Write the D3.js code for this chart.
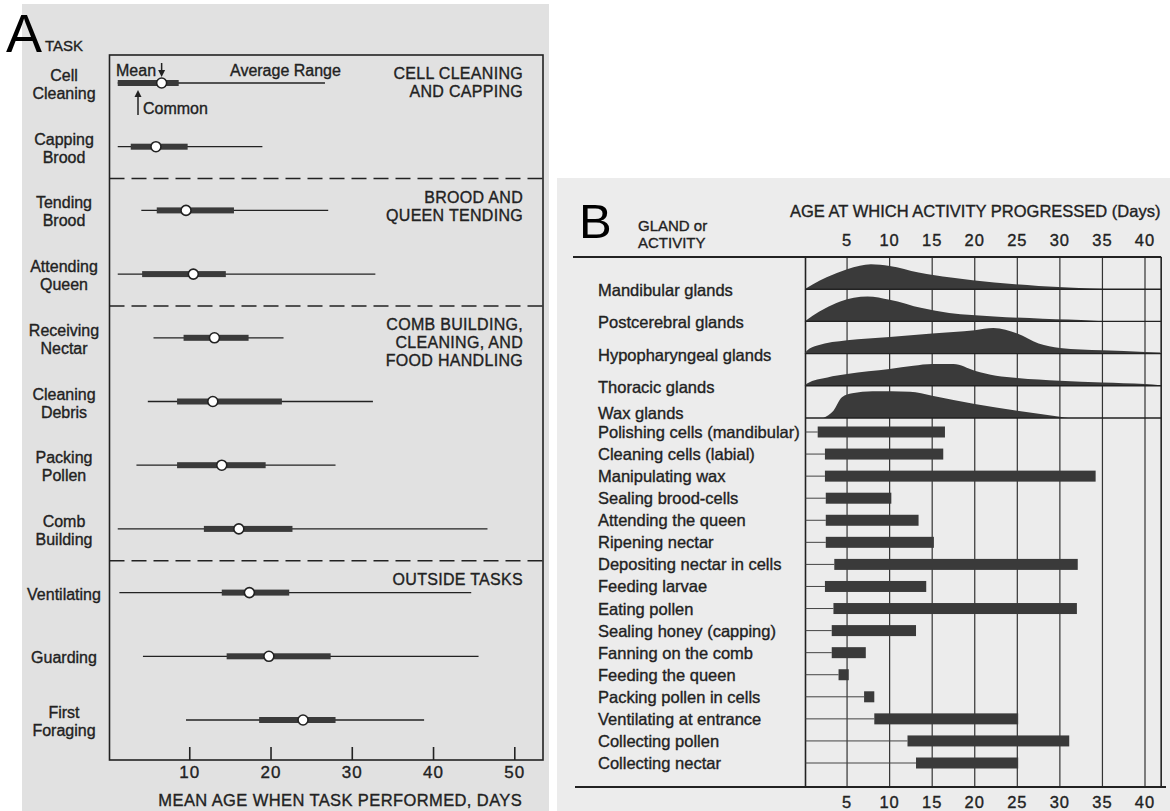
<!DOCTYPE html>
<html><head><meta charset="utf-8">
<script src="https://cdn.jsdelivr.net/npm/d3@7"></script>
<style>
html,body{margin:0;padding:0;background:#fff;}
svg{display:block;font-family:"Liberation Sans",Arial,Helvetica,sans-serif;}
svg text{stroke:#222;stroke-width:0.35px;}
svg text.big{stroke:none;}
</style></head><body>
<svg id="fig" width="1170" height="811"></svg>
<script>
// ---------- Panel A: mean age at which each task is performed ----------
const taskLabels = [["Cell","Cleaning"],["Capping","Brood"],["Tending","Brood"],["Attending","Queen"],["Receiving","Nectar"],["Cleaning","Debris"],["Packing","Pollen"],["Comb","Building"],["Ventilating"],["Guarding"],["First","Foraging"]];
const rangeStart  = [1.2, 1.2, 4.1, 1.2, 5.6, 4.9, 3.5, 1.2, 1.4, 4.3, 9.6];
const rangeEnd    = [26.7, 19.0, 27.1, 32.9, 21.6, 32.6, 28.0, 46.7, 44.7, 45.6, 38.9];
const commonStart = [1.2, 2.8, 6.0, 4.2, 9.3, 8.5, 8.5, 11.8, 14.0, 14.6, 18.6];
const commonEnd   = [8.7, 9.8, 15.5, 14.5, 17.3, 21.4, 19.4, 22.7, 22.3, 27.4, 28.0];
const meanAge     = [6.6, 5.9, 9.6, 10.5, 13.1, 12.9, 14.0, 16.1, 17.4, 19.8, 24.0];
const taskGroups = [["CELL CLEANING","AND CAPPING"],["BROOD AND","QUEEN TENDING"],["COMB BUILDING,","CLEANING, AND","FOOD HANDLING"],["OUTSIDE TASKS"]];
const groupFirstTask = [0, 2, 4, 8];
const ageTicksA = [10, 20, 30, 40, 50];

// ---------- Panel B: glandular development and activities by age ----------
const glands = ["Mandibular glands","Postcerebral glands","Hypopharyngeal glands","Thoracic glands","Wax glands"];
const mandibularProfile     = [[0,0],[1,5],[2.6,12],[5,20],[6.5,23.5],[7.8,25],[10,23.3],[13.4,16.7],[17.2,11.7],[22.3,6.7],[27.5,3.3],[31,1.7],[36,0]];
const postcerebralProfile   = [[0,0],[1,6],[2.4,13],[4.2,20],[7.4,25],[10,21.7],[13.8,13.3],[17,8.3],[22.3,5],[28,2.7],[34,0.7],[35,0]];
const hypopharyngealProfile = [[0,0],[0.3,3],[1.5,8],[5,13.3],[10,16.7],[15,20],[20,23.3],[22.2,25.5],[25,20],[27.5,10],[30,5.7],[35,3.3],[40,1.7],[41.8,1]];
const thoracicProfile       = [[0,0],[0.3,2.3],[2.7,8.3],[5,11.7],[10,16.7],[12.8,20],[15,21.7],[17.5,21.7],[20,15],[22.5,10],[25,7.7],[30,5],[35,3.3],[40,1.7],[41.8,0.5]];
const waxProfile            = [[2.2,0],[3.4,7.3],[4.4,20.7],[5.6,24.7],[8,26.7],[12.4,26.3],[15,22.3],[20,14],[25,7.3],[30,1.3],[31,0]];
const glandProfiles = [mandibularProfile, postcerebralProfile, hypopharyngealProfile, thoracicProfile, waxProfile];

const activities = ["Polishing cells (mandibular)","Cleaning cells (labial)","Manipulating wax","Sealing brood-cells","Attending the queen","Ripening nectar","Depositing nectar in cells","Feeding larvae","Eating pollen","Sealing honey (capping)","Fanning on the comb","Feeding the queen","Packing pollen in cells","Ventilating at entrance","Collecting pollen","Collecting nectar"];
const activityStart = [1.55, 2.4, 2.4, 2.5, 2.5, 2.5, 3.5, 2.4, 3.4, 3.2, 3.2, 4.0, 7.0, 8.2, 12.1, 13.1];
const activityEnd   = [16.5, 16.3, 34.2, 10.2, 13.4, 15.2, 32.1, 14.3, 32.0, 13.1, 7.2, 5.2, 8.2, 25.1, 31.1, 25.1];
const ageTicksB = [5, 10, 15, 20, 25, 30, 35, 40];

const ink = "#222", fillDark = "#3a3a3a";
const svg = d3.select("#fig");

// ================= PANEL A =================
const gA = svg.append("g");
gA.append("rect").attr("x", 22).attr("y", 4).attr("width", 527).attr("height", 807).attr("fill", "#e1e1e1");

const xA = d3.scaleLinear().domain([0, 50]).range([108, 514.3]);
const frameA = {left: 109.5, right: 543, top: 55, bottom: 760};
const yA = d3.scalePoint().domain(d3.range(taskLabels.length)).range([83, 720]);

// frame
gA.append("rect").attr("x", frameA.left).attr("y", frameA.top)
  .attr("width", frameA.right - frameA.left).attr("height", frameA.bottom - frameA.top)
  .attr("fill", "none").attr("stroke", ink).attr("stroke-width", 1.6);

// bottom axis: inward ticks and labels
const axisA = d3.axisBottom(xA).tickValues(ageTicksA).tickSize(-13).tickPadding(6).tickFormat(d3.format("d"));
gA.append("g").attr("transform", `translate(0,${frameA.bottom})`).call(axisA)
  .call(g => g.select(".domain").remove())
  .call(g => g.selectAll("line").attr("stroke", ink).attr("stroke-width", 1.6))
  .call(g => g.selectAll("text").attr("fill", ink).attr("font-size", 17).attr("font-family", "Liberation Sans, Arial, sans-serif").attr("letter-spacing", 1));

gA.append("text").attr("x", (frameA.left + frameA.right) / 2 + 14).attr("y", 806)
  .attr("text-anchor", "middle").attr("font-size", 16.5).attr("fill", ink).attr("letter-spacing", 0.4)
  .text("MEAN AGE WHEN TASK PERFORMED, DAYS");

// section dividers (dashed), halfway between neighbouring tasks
groupFirstTask.slice(1).forEach(i => {
  const yy = (yA(i - 1) + yA(i)) / 2;
  gA.append("line").attr("x1", frameA.left).attr("x2", frameA.right).attr("y1", yy).attr("y2", yy)
    .attr("stroke", ink).attr("stroke-width", 1.4).attr("stroke-dasharray", "15,7");
});

// section titles, right aligned
taskGroups.forEach((lines, gi) => {
  const i = groupFirstTask[gi];
  const top = gi === 0 ? frameA.top : (yA(i - 1) + yA(i)) / 2;
  lines.forEach((t, li) => {
    gA.append("text").attr("x", 523).attr("y", top + 24 + li * 18)
      .attr("text-anchor", "end").attr("font-size", 16).attr("fill", ink).attr("letter-spacing", 0.3).text(t);
  });
});

// task labels
gA.append("text").attr("x", 45).attr("y", 51).attr("font-size", 15).attr("fill", ink).text("TASK");
taskLabels.forEach((lines, i) => {
  const n = lines.length;
  lines.forEach((t, li) => {
    gA.append("text").attr("x", 64).attr("y", yA(i) + (li - (n - 1) / 2) * 18 + 7)
      .attr("text-anchor", "middle").attr("font-size", 16).attr("fill", ink).text(t);
  });
});

// range lines, common range bars, mean markers
const rowsA = gA.append("g").selectAll("g").data(d3.range(taskLabels.length)).join("g");
rowsA.append("line").attr("x1", i => xA(rangeStart[i])).attr("x2", i => xA(rangeEnd[i]))
  .attr("y1", i => yA(i)).attr("y2", i => yA(i)).attr("stroke", ink).attr("stroke-width", 1.3);
rowsA.append("rect").attr("x", i => xA(commonStart[i])).attr("width", i => xA(commonEnd[i]) - xA(commonStart[i]))
  .attr("y", i => yA(i) - 3).attr("height", 6).attr("fill", fillDark);
rowsA.append("circle").attr("cx", i => xA(meanAge[i])).attr("cy", i => yA(i)).attr("r", 5)
  .attr("fill", "#fff").attr("stroke", ink).attr("stroke-width", 1.6);

// key annotations on the first row
gA.append("text").attr("x", 116).attr("y", 76).attr("font-size", 16).attr("fill", ink).text("Mean");
gA.append("line").attr("x1", xA(meanAge[0])).attr("x2", xA(meanAge[0])).attr("y1", 63).attr("y2", 74)
  .attr("stroke", ink).attr("stroke-width", 1.5);
gA.append("path").attr("d", `M${xA(meanAge[0]) - 3.5},70 L${xA(meanAge[0]) + 3.5},70 L${xA(meanAge[0])},77 Z`).attr("fill", ink);
gA.append("text").attr("x", 230).attr("y", 76).attr("font-size", 16).attr("fill", ink).text("Average Range");
gA.append("line").attr("x1", 138).attr("x2", 138).attr("y1", 94).attr("y2", 115).attr("stroke", ink).attr("stroke-width", 1.5);
gA.append("path").attr("d", "M134.5,97 L141.5,97 L138,90 Z").attr("fill", ink);
gA.append("text").attr("x", 143).attr("y", 114).attr("font-size", 16).attr("fill", ink).text("Common");

gA.append("text").attr("class", "big").attr("x", 6).attr("y", 52).attr("font-size", 54).attr("fill", "#000").text("A");

// ================= PANEL B =================
const gB = svg.append("g");
gB.append("rect").attr("x", 557).attr("y", 178).attr("width", 613).attr("height", 633).attr("fill", "#ececec");

const xB = d3.scaleLinear().domain([0, 40]).range([804.5, 1145]);
const frameB = {left: xB(0) + 1, right: xB(41.9), top: 257, bottom: 787};
const glandBase = d3.scaleLinear().domain([0, glands.length]).range([frameB.top, 418]);
const hB = d3.scaleLinear().domain([0, 30]).range([0, 30]);
const yAct = d3.scalePoint().domain(d3.range(activities.length)).range([432, 763]);

// grid lines
gB.append("g").selectAll("line").data(ageTicksB).join("line")
  .attr("x1", d => xB(d)).attr("x2", d => xB(d)).attr("y1", frameB.top).attr("y2", frameB.bottom)
  .attr("stroke", "#333").attr("stroke-width", 1.2);
// frame pieces
gB.append("line").attr("x1", 573).attr("x2", frameB.right).attr("y1", frameB.top).attr("y2", frameB.top)
  .attr("stroke", ink).attr("stroke-width", 1.8);
gB.append("line").attr("x1", 575).attr("x2", 1166).attr("y1", frameB.bottom).attr("y2", frameB.bottom)
  .attr("stroke", ink).attr("stroke-width", 1.8);
gB.append("line").attr("x1", frameB.left).attr("x2", frameB.left).attr("y1", frameB.top).attr("y2", frameB.bottom)
  .attr("stroke", ink).attr("stroke-width", 1.6);
gB.append("line").attr("x1", frameB.right).attr("x2", frameB.right).attr("y1", frameB.top).attr("y2", frameB.bottom)
  .attr("stroke", ink).attr("stroke-width", 1.6);

// gland development silhouettes
const area = d3.area().curve(d3.curveMonotoneX);
glandProfiles.forEach((prof, gi) => {
  const base = glandBase(gi + 1);
  gB.append("path")
    .attr("d", area.x(d => xB(d[0])).y0(base).y1(d => base - hB(d[1]))(prof))
    .attr("fill", fillDark);
  gB.append("line").attr("x1", frameB.left).attr("x2", frameB.right).attr("y1", base).attr("y2", base)
    .attr("stroke", ink).attr("stroke-width", 1.4);
  gB.append("text").attr("x", 598).attr("y", base + 7 - (gi === 4 ? 6 : 0))
    .attr("font-size", 16.5).attr("fill", ink).text(glands[gi]);
});

// activities: leader line plus age bar
const rowsB = gB.append("g").selectAll("g").data(d3.range(activities.length)).join("g");
rowsB.append("line").attr("x1", frameB.left).attr("x2", i => xB(activityStart[i]))
  .attr("y1", i => yAct(i)).attr("y2", i => yAct(i)).attr("stroke", "#444").attr("stroke-width", 1);
rowsB.append("rect").attr("x", i => xB(activityStart[i])).attr("width", i => xB(activityEnd[i]) - xB(activityStart[i]))
  .attr("y", i => yAct(i) - 5.5).attr("height", 11).attr("fill", fillDark);
rowsB.append("text").attr("x", 598).attr("y", i => yAct(i) + 6)
  .attr("font-size", 16.5).attr("fill", ink).text(i => activities[i]);

// age ticks, top and bottom
[246, 808].forEach(yy => {
  gB.append("g").selectAll("text").data(ageTicksB).join("text")
    .attr("x", d => xB(d)).attr("y", yy).attr("text-anchor", "middle")
    .attr("font-size", 16.5).attr("fill", ink).attr("letter-spacing", 1).text(d => d);
});

gB.append("text").attr("x", 790).attr("y", 217).attr("font-size", 16.5).attr("fill", ink)
  .text("AGE AT WHICH ACTIVITY PROGRESSED (Days)");
gB.append("text").attr("x", 638).attr("y", 231).attr("font-size", 15).attr("fill", ink).text("GLAND or");
gB.append("text").attr("x", 638).attr("y", 248).attr("font-size", 15).attr("fill", ink).text("ACTIVITY");
gB.append("text").attr("class", "big").attr("x", 579).attr("y", 238).attr("font-size", 49).attr("fill", "#000").text("B");
</script>
</body></html>
